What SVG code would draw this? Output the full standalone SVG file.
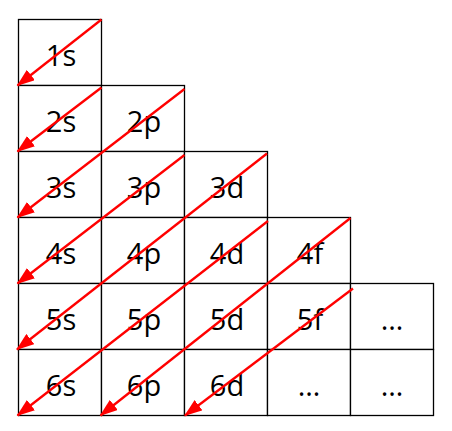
<svg xmlns="http://www.w3.org/2000/svg" width="452" height="431" viewBox="0 0 452 431">
<style>
.c{fill:#fff;stroke:#000;stroke-width:1.3}
.t{font-family:"Open Sans","Liberation Sans",sans-serif;font-size:29px;fill:#000;text-anchor:middle}
.a{stroke:#ff0000;stroke-width:2.3;fill:none;marker-end:url(#ah)}
</style>
<defs>
<marker id="ah" viewBox="0 0 18 13" refX="17" refY="6.5" markerWidth="18" markerHeight="13" markerUnits="userSpaceOnUse" orient="auto">
<path d="M0,0 L18,6.5 L0,13 z" fill="#ff0000"/>
</marker>
</defs>
<g id="n1s"><rect class="c" x="18.5" y="19.5" width="83" height="66"/><text class="t" x="61" y="66">1s</text></g>
<g id="n2s"><rect class="c" x="18.5" y="85.5" width="83" height="66"/><text class="t" x="61" y="132">2s</text></g>
<g id="n2p"><rect class="c" x="101.5" y="85.5" width="83" height="66"/><text class="t" x="144" y="132">2p</text></g>
<g id="n3s"><rect class="c" x="18.5" y="151.5" width="83" height="66"/><text class="t" x="61" y="198">3s</text></g>
<g id="n3p"><rect class="c" x="101.5" y="151.5" width="83" height="66"/><text class="t" x="144" y="198">3p</text></g>
<g id="n3d"><rect class="c" x="184.5" y="151.5" width="83" height="66"/><text class="t" x="227" y="198">3d</text></g>
<g id="n4s"><rect class="c" x="18.5" y="217.5" width="83" height="66"/><text class="t" x="61" y="264">4s</text></g>
<g id="n4p"><rect class="c" x="101.5" y="217.5" width="83" height="66"/><text class="t" x="144" y="264">4p</text></g>
<g id="n4d"><rect class="c" x="184.5" y="217.5" width="83" height="66"/><text class="t" x="227" y="264">4d</text></g>
<g id="n4f"><rect class="c" x="267.5" y="217.5" width="83" height="66"/><text class="t" x="310" y="264">4f</text></g>
<g id="n5s"><rect class="c" x="18.5" y="283.5" width="83" height="66"/><text class="t" x="61" y="330">5s</text></g>
<g id="n5p"><rect class="c" x="101.5" y="283.5" width="83" height="66"/><text class="t" x="144" y="330">5p</text></g>
<g id="n5d"><rect class="c" x="184.5" y="283.5" width="83" height="66"/><text class="t" x="227" y="330">5d</text></g>
<g id="n5f"><rect class="c" x="267.5" y="283.5" width="83" height="66"/><text class="t" x="310" y="330">5f</text></g>
<g id="n5x"><rect class="c" x="350.5" y="283.5" width="83" height="66"/><text class="t" x="392" y="330">…</text></g>
<g id="n6s"><rect class="c" x="18.5" y="349.5" width="83" height="66"/><text class="t" x="61" y="396">6s</text></g>
<g id="n6p"><rect class="c" x="101.5" y="349.5" width="83" height="66"/><text class="t" x="144" y="396">6p</text></g>
<g id="n6d"><rect class="c" x="184.5" y="349.5" width="83" height="66"/><text class="t" x="227" y="396">6d</text></g>
<g id="n6x1"><rect class="c" x="267.5" y="349.5" width="83" height="66"/><text class="t" x="309" y="396">…</text></g>
<g id="n6x2"><rect class="c" x="350.5" y="349.5" width="83" height="66"/><text class="t" x="392" y="396">…</text></g>
<g id="connectors">
<line class="a" x1="101.5" y1="19.5" x2="17.5" y2="85.5"/>
<line class="a" x1="101.5" y1="87.5" x2="17.5" y2="151.5"/>
<line class="a" x1="184.5" y1="89" x2="17.5" y2="217.5"/>
<line class="a" x1="184.5" y1="155" x2="17.5" y2="283.5"/>
<line class="a" x1="267" y1="153.5" x2="17" y2="349.5"/>
<line class="a" x1="268" y1="221" x2="17.5" y2="415.5"/>
<line class="a" x1="350.5" y1="218" x2="100.5" y2="415.5"/>
<line class="a" x1="353" y1="288.5" x2="185" y2="415.5"/>
</g>
</svg>
